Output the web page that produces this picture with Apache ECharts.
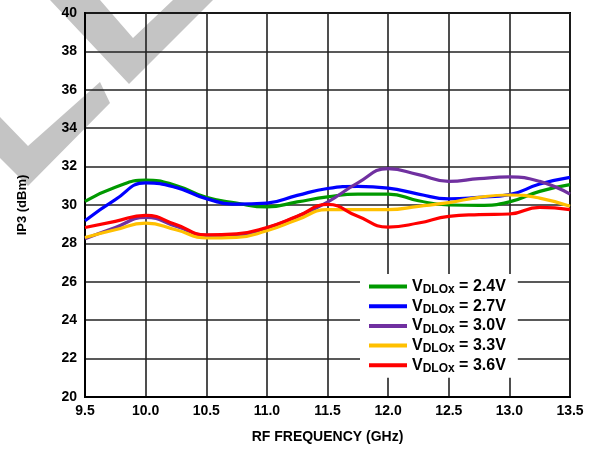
<!DOCTYPE html>
<html>
<head>
<meta charset="utf-8">
<script src="https://cdn.jsdelivr.net/npm/echarts@6/dist/echarts.min.js"></script>
<style>
  html, body { margin: 0; padding: 0; background: #fff; }
  #chart { width: 595px; height: 451px; }
</style>
</head>
<body>
<div id="chart"></div>
<script>
// RF frequency sweep (GHz)
const freqGHz = [9.5, 9.75, 10.0, 10.25, 10.5, 10.75, 11.0, 11.25, 11.5, 11.75, 12.0, 12.25, 12.5, 12.75, 13.0, 13.25, 13.5];

// IP3 (dBm) for each supply voltage
const ip3_24 = [30.19, 30.92, 31.30, 31.02, 30.40, 30.10, 29.90, 30.16, 30.42, 30.57, 30.57, 30.22, 30.00, 29.98, 30.16, 30.71, 31.06];
const ip3_27 = [29.18, 30.28, 31.15, 30.92, 30.33, 30.05, 30.10, 30.50, 30.86, 30.97, 30.88, 30.57, 30.32, 30.40, 30.54, 31.09, 31.44];
const ip3_30 = [28.24, 28.83, 29.36, 28.89, 28.42, 28.40, 28.80, 29.40, 30.15, 31.15, 31.89, 31.58, 31.23, 31.37, 31.46, 31.23, 30.57];
const ip3_33 = [28.31, 28.71, 29.06, 28.71, 28.28, 28.31, 28.66, 29.23, 29.76, 29.76, 29.76, 29.93, 30.12, 30.40, 30.52, 30.36, 29.93];
const ip3_36 = [28.83, 29.15, 29.46, 28.98, 28.45, 28.50, 28.83, 29.41, 30.03, 29.41, 28.85, 29.06, 29.41, 29.50, 29.53, 29.88, 29.76];

const supplyLabels = ['2.4V', '2.7V', '3.0V', '3.3V', '3.6V'];
const seriesValues = [ip3_24, ip3_27, ip3_30, ip3_33, ip3_36];
const seriesColors = ['#009900', '#0000ff', '#7030a0', '#ffc000', '#ff0000'];

const FONT = '"Liberation Sans", Arial, sans-serif';

const chart = echarts.init(document.getElementById('chart'), null, { renderer: 'canvas' });

const series = supplyLabels.map((name, i) => ({
  name: name,
  type: 'line',
  smooth: 0.5,
  showSymbol: false,
  data: freqGHz.map((f, k) => [f, seriesValues[i][k]]),
  lineStyle: { color: seriesColors[i], width: 3.2 },
  itemStyle: { color: seriesColors[i] },
  z: 3
}));

chart.setOption({
  animation: false,
  backgroundColor: '#fff',
  textStyle: { fontFamily: FONT },
  graphic: [
    {
      type: 'polygon', z: -10, silent: true,
      shape: { points: [[50, 0], [100, 0], [133, 38], [173, 0], [213, 0], [129, 84]] },
      style: { fill: '#c4c4c4' }
    },
    {
      type: 'polygon', z: -10, silent: true,
      shape: { points: [[0, 117], [28, 146], [100, 82], [110, 103], [28, 186], [0, 158]] },
      style: { fill: '#c4c4c4' }
    }
  ],
  grid: {
    left: 85, right: 25, top: 13, bottom: 54,
    show: true, borderColor: '#000', borderWidth: 2, backgroundColor: 'transparent'
  },
  legend: {
    orient: 'vertical',
    left: 360, top: 274,
    padding: [3, 12, 3, 9],
    backgroundColor: '#fff',
    itemWidth: 38, itemHeight: 4, itemGap: 0.7,
    icon: 'rect',
    data: supplyLabels,
    formatter: name => '{v|V}{s|DLOx}{v| = ' + name + '}',
    textStyle: {
      fontFamily: FONT,
      rich: {
        v: { fontSize: 16, fontWeight: 'bold', color: '#000', fontFamily: FONT, lineHeight: 18 },
        s: { fontSize: 12, fontWeight: 'bold', color: '#000', fontFamily: FONT, padding: [7, 0, 0, 0], lineHeight: 18 }
      }
    }
  },
  xAxis: {
    type: 'value',
    min: 9.5, max: 13.5, interval: 0.5,
    name: 'RF FREQUENCY (GHz)',
    nameLocation: 'middle', nameGap: 33,
    nameTextStyle: { fontFamily: FONT, fontWeight: 'bold', fontSize: 14, color: '#000' },
    axisLine: { show: true, lineStyle: { color: '#000', width: 2 } },
    axisTick: { show: false },
    axisLabel: {
      fontFamily: FONT, fontWeight: 'bold', fontSize: 14, color: '#000', margin: 7,
      formatter: v => v.toFixed(1)
    },
    splitLine: { show: true, lineStyle: { color: '#222', width: 1.6 } }
  },
  yAxis: {
    type: 'value',
    min: 20, max: 40, interval: 2,
    name: 'IP3 (dBm)',
    nameLocation: 'middle', nameGap: 56,
    nameTextStyle: { fontFamily: FONT, fontWeight: 'bold', fontSize: 13, color: '#000' },
    axisLine: { show: true, lineStyle: { color: '#000', width: 2 } },
    axisTick: { show: false },
    axisLabel: { fontFamily: FONT, fontWeight: 'bold', fontSize: 14, color: '#000', margin: 8 },
    splitLine: { show: true, lineStyle: { color: '#222', width: 1.6 } }
  },
  series: series
});
</script>
</body>
</html>
